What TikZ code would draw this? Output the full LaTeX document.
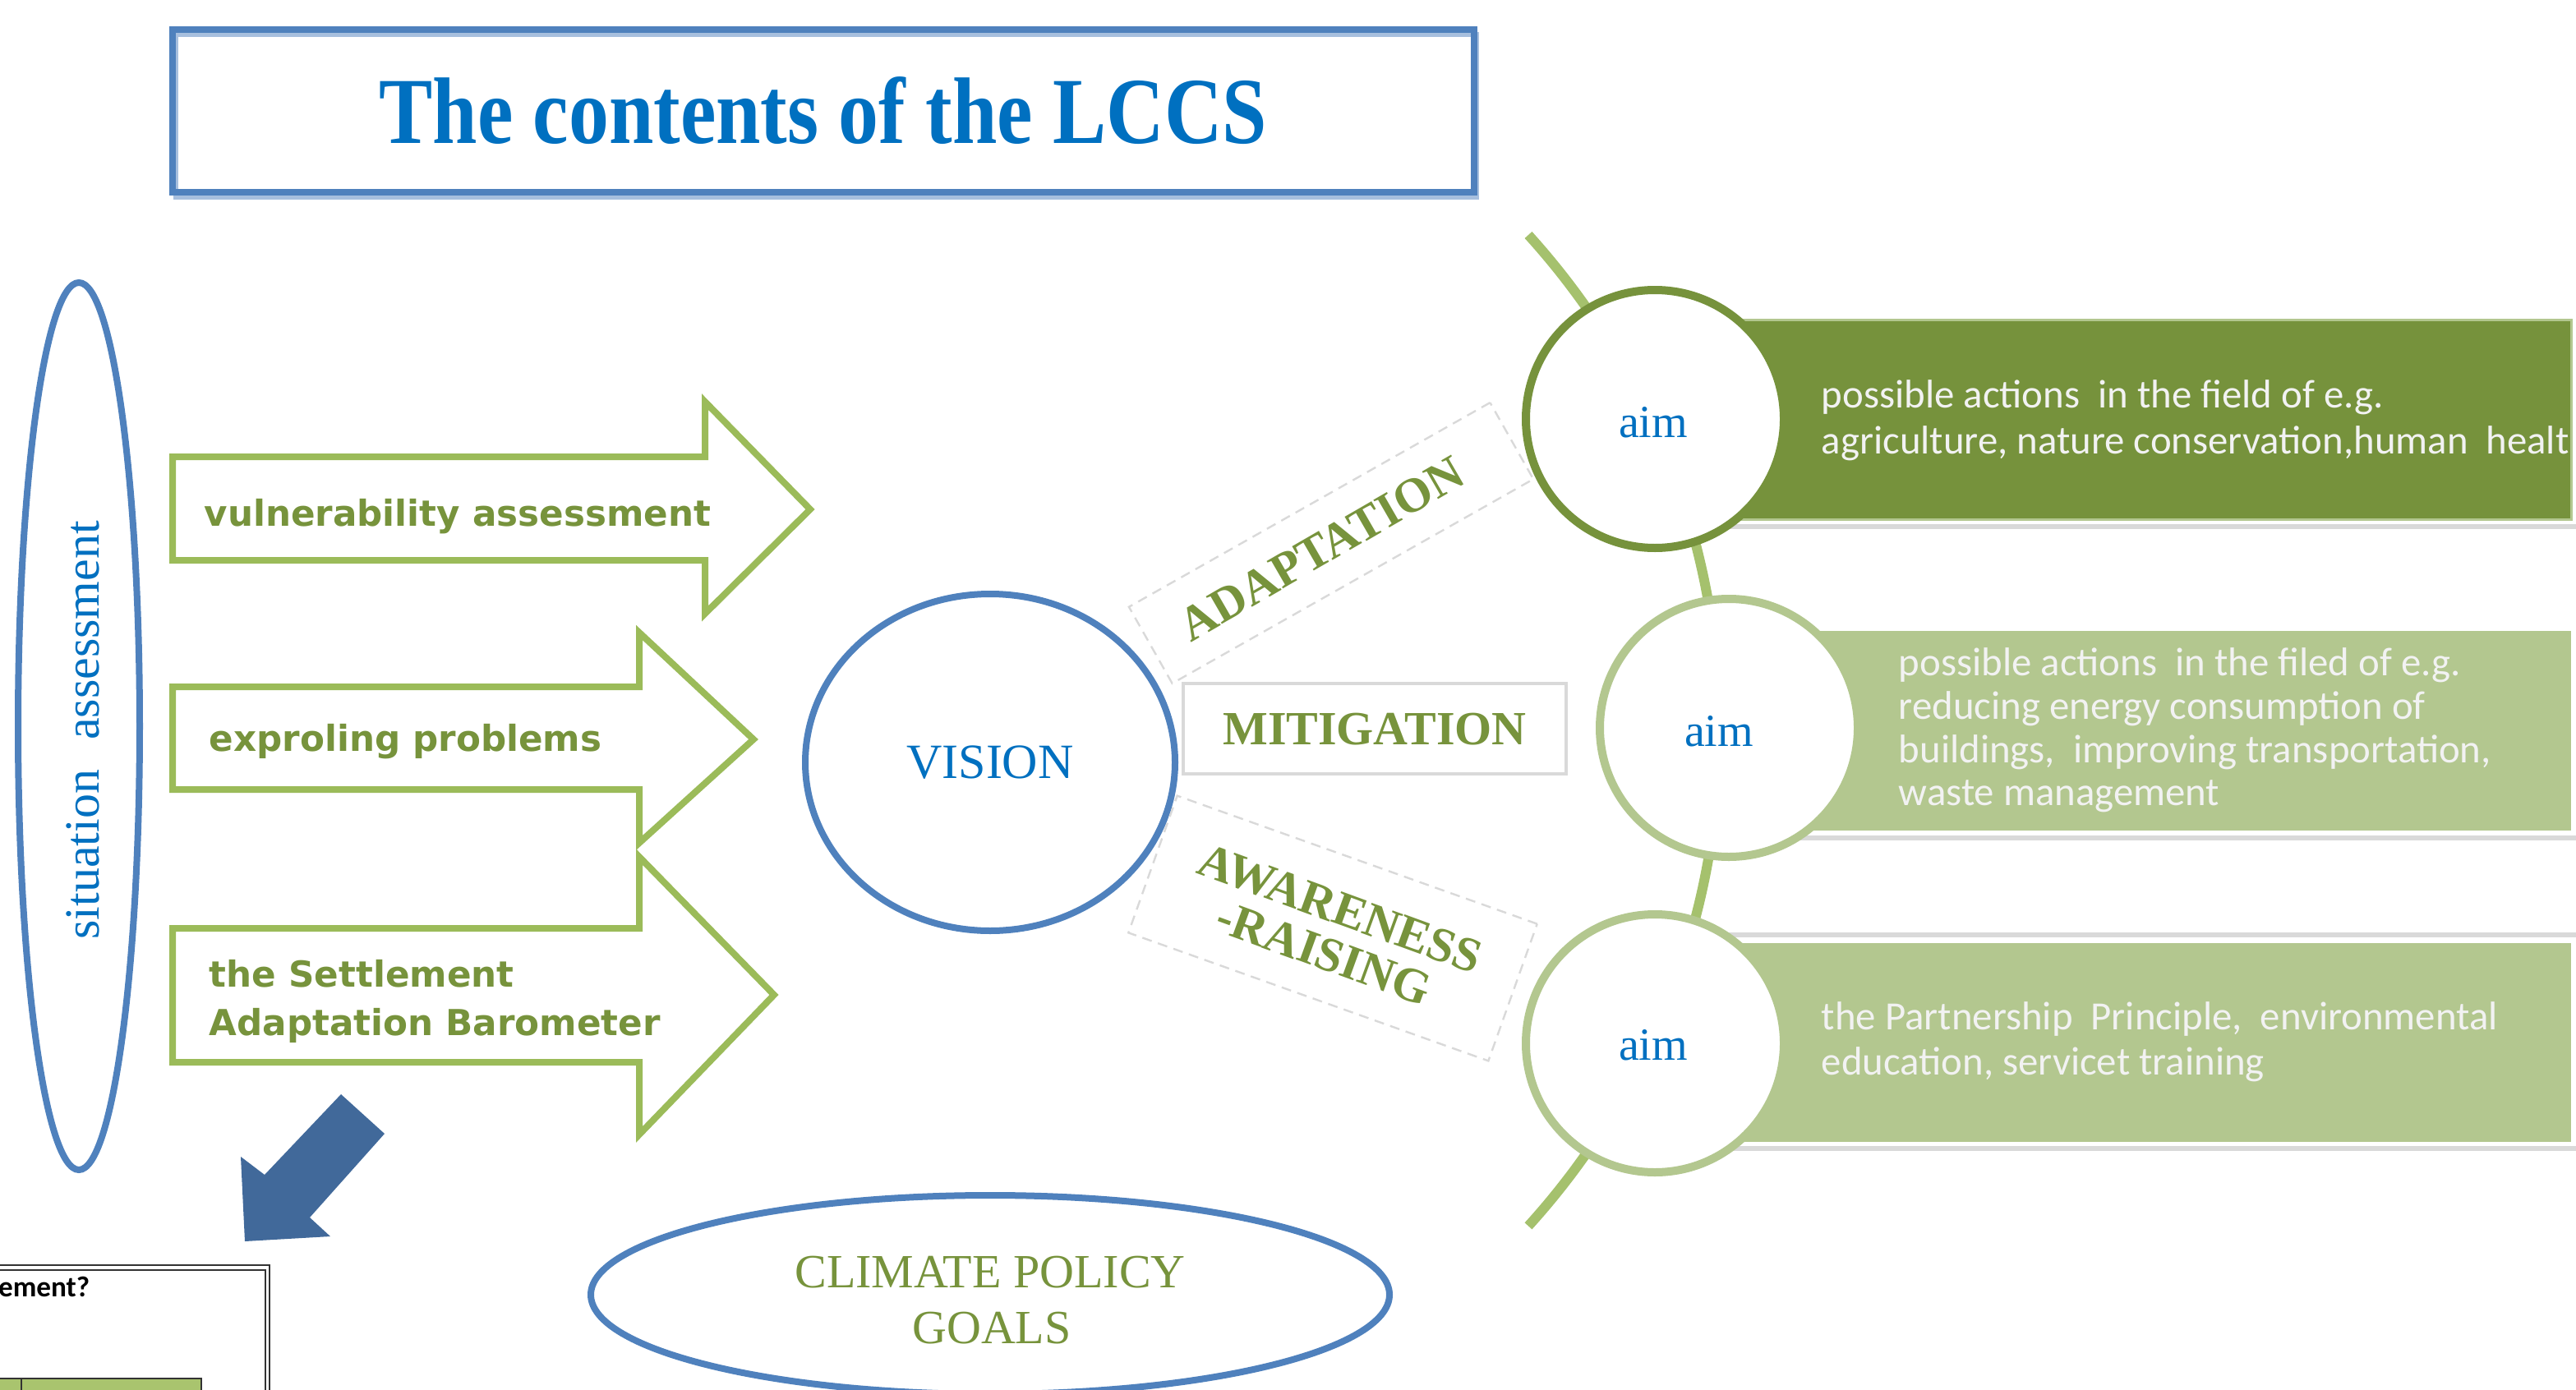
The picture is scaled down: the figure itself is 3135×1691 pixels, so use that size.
\documentclass[tikz,border=0pt]{standalone}
\usepackage{fontspec}
\setmainfont{Liberation Serif}
\newfontfamily\titlefont[FakeStretch=0.85]{Liberation Serif}
\newfontfamily\verdfont{DejaVu Sans}
\newfontfamily\calfont{Carlito}
\usetikzlibrary{shapes.geometric}
\definecolor{tblue}{HTML}{0070C0}
\definecolor{oblue}{HTML}{4F81BD}
\definecolor{shblue}{HTML}{A7BFDE}
\definecolor{gtext}{HTML}{77933C}
\definecolor{agreen}{HTML}{9BBB59}
\definecolor{dgreen}{HTML}{76923C}
\definecolor{lgreen}{HTML}{B3C78F}
\definecolor{arcgreen}{HTML}{A5C16D}
\definecolor{bluearrow}{HTML}{41699A}
\definecolor{wtext}{HTML}{F2F2F2}
\definecolor{lgray}{HTML}{D9D9D9}
\definecolor{tabgreen}{HTML}{A9C46E}
\tikzset{
  arrowshape/.style={draw=agreen, line width=2pt, line join=miter, fill=white},
  gtxt/.style={text=gtext, font=\verdfont\bfseries\fontsize{10.9}{13}\selectfont, anchor=base west, inner sep=0pt},
  wtxt/.style={text=wtext, font=\calfont\fontsize{12.2}{14}\selectfont, anchor=base west, inner sep=0pt},
  aimcircle/.style={circle, line width=2.5pt, fill=white, minimum size=78.5pt, inner sep=0pt},
  aimtxt/.style={text=tblue, font=\fontsize{14}{16}\selectfont, inner sep=0pt},
  oval/.style={ellipse, draw=oblue, line width=2pt, fill=white, inner sep=0pt},
  tagbox/.style={draw=lgray, line width=0.6pt, dash pattern=on 3pt off 2pt, inner sep=0pt},
  tagtxt/.style={text=gtext, font=\bfseries\fontsize{14.5}{14}\selectfont, inner sep=0pt},
  actionbox/.style={anchor=north west, inner sep=0pt},
  shadowline/.style={draw=lgray, line width=1.5pt}
}
\begin{document}
\begin{tikzpicture}[x=0.25pt, y=-0.25pt]
\useasboundingbox (0,0) rectangle (3135,1691);

% title
\draw[shblue, line width=1.5pt] (214,42) rectangle (1797,240);
\node[draw=oblue, line width=2.2pt, minimum width=396pt, minimum height=49.5pt, inner sep=0pt,
      text=tblue, font=\titlefont\bfseries\fontsize{28.75}{30}\selectfont] (title) at (1002,135) {The contents of the LCCS};

% situation assessment
\node[oval, minimum width=37pt, minimum height=270pt] (situation) at (96,884) {};
\node[rotate=90, anchor=base, text=tblue, font=\fontsize{15}{16}\selectfont, inner sep=0pt] (sittxt) at (120,889) {situation\hspace{0.6em}assessment};

% green block arrows
\draw[arrowshape] (210,556) -- (858,556) -- (858,489) -- (986,620) -- (858,747) -- (858,682) -- (210,682) -- cycle;
\draw[arrowshape] (210,836) -- (778,836) -- (778,770) -- (917,900) -- (778,1026) -- (778,961) -- (210,961) -- cycle;
\draw[arrowshape] (210,1130) -- (778,1130) -- (778,1043) -- (942,1211) -- (778,1381) -- (778,1293) -- (210,1293) -- cycle;
\node[gtxt] (vuln) at (248,640) {vulnerability assessment};
\node[gtxt] (explore) at (254,914) {exproling problems};
\node[gtxt] (settle1) at (254,1201) {the Settlement};
\node[gtxt] (settle2) at (254,1260) {Adaptation Barometer};

% vision
\node[oval, minimum width=112.5pt, minimum height=102.5pt, text=tblue, font=\fontsize{15}{16}\selectfont] (vision) at (1205,928) {VISION};

% tags
\node[tagbox, rotate=29.5, minimum width=126.25pt, minimum height=26.75pt] (adaptbox) at (1620,661) {};
\node[tagtxt, rotate=30, font=\bfseries\fontsize{14.8}{15}\selectfont] (adapt) at (1608,668) {ADAPTATION};
\node[draw=lgray, line width=1pt, minimum width=116.5pt, minimum height=27.5pt, inner sep=0pt] (mitbox) at (1673,887) {};
\node[tagtxt, anchor=base] (mit) at (1673,906) {MITIGATION};
\node[tagbox, rotate=-19.6, minimum width=116.25pt, minimum height=44.25pt] (awarebox) at (1622,1130) {};
\node[tagtxt, rotate=-20, align=center, font=\bfseries\fontsize{14.8}{14.5}\selectfont] (aware) at (1621,1133) {AWARENESS\\-RAISING};

% climate policy goals
\node[oval, minimum width=243pt, minimum height=60.5pt] (goals) at (1205,1576) {};
\node[anchor=base, text=gtext, font=\fontsize{14.5}{16}\selectfont, inner sep=0pt] (goals1) at (1205,1567) {CLIMATE POLICY};
\node[anchor=base, text=gtext, font=\fontsize{14.5}{16}\selectfont, inner sep=0pt] (goals2) at (1207,1635) {GOALS};

% right side: arc, bars, circles
\draw[arcgreen, line width=3pt] (1860,286) arc[start angle=-42.2, end angle=42.2, radius=898];

\draw[shadowline] (2100,641) -- (3135,641);
\draw[shadowline] (2140,1020) -- (3135,1020);
\draw[shadowline] (2100,1138) -- (3135,1138);
\draw[shadowline] (2100,1398) -- (3135,1398);

\node[actionbox, fill=dgreen, draw=lgreen, line width=0.8pt, minimum width=269.5pt, minimum height=60.75pt] (bar1) at (2050,388) {};
\node[actionbox, fill=lgreen, minimum width=247pt, minimum height=60.75pt] (bar2) at (2140,767) {};
\node[actionbox, fill=lgreen, minimum width=269.5pt, minimum height=60.5pt] (bar3) at (2050,1147) {};

\node[aimcircle, draw=dgreen] (aim1) at (2014,510) {};
\node[aimcircle, draw=lgreen] (aim2) at (2104,886) {};
\node[aimcircle, draw=lgreen] (aim3) at (2014,1270) {};
\node[aimtxt] (aim1t) at (2012,514) {aim};
\node[aimtxt] (aim2t) at (2092,890) {aim};
\node[aimtxt] (aim3t) at (2012,1272) {aim};

\node[wtxt] (b1l1) at (2216,496) {possible actions\ \ in the field of e.g.};
\node[wtxt] (b1l2) at (2216,552) {agriculture, nature conservation,human\ \ healt};
\node[wtxt] (b2l1) at (2310,822) {possible actions\ \ in the filed of e.g.};
\node[wtxt] (b2l2) at (2310,875) {reducing energy consumption of};
\node[wtxt] (b2l3) at (2310,928) {buildings,\ \ improving transportation,};
\node[wtxt] (b2l4) at (2310,980) {waste management};
\node[wtxt] (b3l1) at (2216,1253) {the Partnership\ \ Principle,\ \ environmental};
\node[wtxt] (b3l2) at (2216,1308) {education, servicet training};

% blue arrow
\fill[bluearrow] (415,1332) -- (468,1380) -- (377,1482) -- (402,1505) -- (298,1511) -- (293,1408) -- (322,1430) -- cycle;

% partial table image bottom-left
\draw[black!80, line width=0.6pt] (-20,1540) rectangle (328,1720);
\draw[black!80, line width=0.6pt] (-20,1546) rectangle (323,1720);
\node[anchor=base east, font=\calfont\bfseries\fontsize{8.8}{10}\selectfont, inner sep=0pt] (question) at (110,1578) {ement?};
\node[anchor=north west, fill=tabgreen, draw=black!80, line width=0.5pt, minimum width=66pt, minimum height=10pt, inner sep=0pt] (tabrow) at (-20,1677) {};
\draw[black!80, line width=0.5pt] (26,1677) -- (26,1720);
\end{tikzpicture}
\end{document}
